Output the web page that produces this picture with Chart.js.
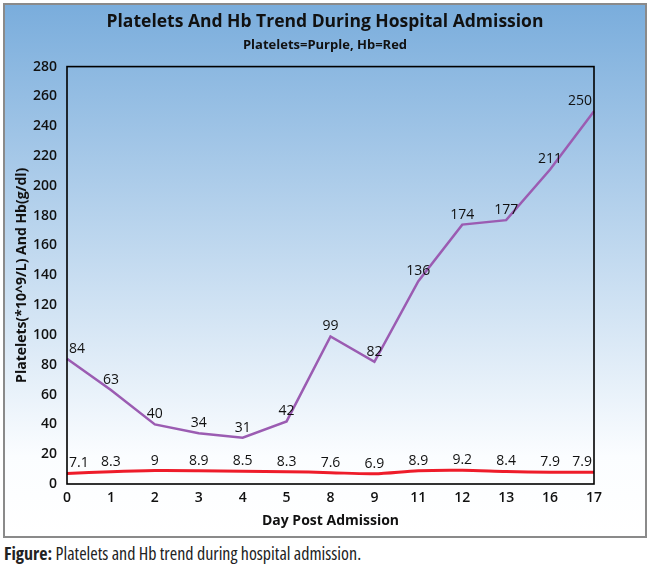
<!DOCTYPE html>
<html>
<head>
<meta charset="utf-8">
<script src="https://cdn.jsdelivr.net/npm/chart.js@4.4.1/dist/chart.umd.min.js"></script>
<style>
  body { margin: 0; background: #fff; width: 650px; height: 571px; position: relative; overflow: hidden; }
  .frame {
    position: absolute; left: 3px; top: 3px; width: 640px; height: 531px;
    border: 2px solid #8a8a8a;
    background: linear-gradient(to bottom, #7aaddc 0%, #fbfdff 85%, #ffffff 100%);
  }
  .caption {
    position: absolute; left: 4px; top: 541px; margin: 0;
    font-family: "Liberation Sans Narrow", "Open Sans", sans-serif;
    font-stretch: condensed; font-size: 18px; color: #222;
  }
</style>
</head>
<body>
<div class="frame"><canvas id="chart" width="640" height="531"></canvas></div>
<p class="caption"><b>Figure:</b> Platelets and Hb trend during hospital admission.</p>
<script>
// dados
const dias = ["0", "1", "2", "3", "4", "5", "8", "9", "11", "12", "13", "16", "17"];
const plaquetas = [84, 63, 40, 34, 31, 42, 99, 82, 136, 174, 177, 211, 250];
const hemoglobina = [7.1, 8.3, 9, 8.9, 8.5, 8.3, 7.6, 6.9, 8.9, 9.2, 8.4, 7.9, 7.9];
const ticksY = [0, 20, 40, 60, 80, 100, 120, 140, 160, 180, 200, 220, 240, 260, 280];

const fonte = "'Open Sans', sans-serif";

// borda preta da area do grafico
const bordaArea = {
  id: "bordaArea",
  afterDatasetsDraw(chart) {
    const { ctx, chartArea } = chart;
    ctx.save();
    ctx.strokeStyle = "#000";
    ctx.lineWidth = 1.6;
    ctx.strokeRect(chartArea.left, chartArea.top, chartArea.right - chartArea.left, chartArea.bottom - chartArea.top);
    ctx.restore();
  },
};

// rotulos de valor acima dos pontos
const rotulos = {
  id: "rotulos",
  afterDatasetsDraw(chart) {
    const { ctx, chartArea } = chart;
    ctx.save();
    ctx.font = "14px " + fonte;
    ctx.fillStyle = "#111";
    ctx.textAlign = "center";
    ctx.textBaseline = "middle";
    chart.data.datasets.forEach((ds, i) => {
      const meta = chart.getDatasetMeta(i);
      meta.data.forEach((pt, j) => {
        const txt = String(ds.data[j]);
        const w = ctx.measureText(txt).width;
        let x = pt.x;
        if (x - w / 2 < chartArea.left + 2) x = chartArea.left + 2 + w / 2;
        if (x + w / 2 > chartArea.right - 2) x = chartArea.right - 2 - w / 2;
        ctx.fillText(txt, x, pt.y - 10);
      });
    });
    ctx.restore();
  },
};

new Chart(document.getElementById("chart"), {
  type: "line",
  data: {
    labels: dias,
    datasets: [
      {
        label: "Platelets",
        data: plaquetas,
        borderColor: "#9b5cb2",
        borderWidth: 2.5,
        pointRadius: 0,
        tension: 0,
      },
      {
        label: "Hb",
        data: hemoglobina,
        borderColor: "#ee1c2a",
        borderWidth: 3,
        pointRadius: 0,
        tension: 0.3,
      },
    ],
  },
  options: {
    responsive: false,
    animation: false,
    layout: { padding: 0 },
    plugins: {
      legend: { display: false },
      tooltip: { enabled: false },
      title: {
        display: true,
        text: "Platelets And Hb Trend During Hospital Admission",
        color: "#111",
        font: { family: fonte, size: 17.5, weight: "bold" },
        padding: { top: 7, bottom: 2 },
      },
      subtitle: {
        display: true,
        text: "Platelets=Purple, Hb=Red",
        color: "#111",
        font: { family: fonte, size: 13, weight: "bold" },
        padding: { top: 2, bottom: 14 },
      },
    },
    scales: {
      x: {
        offset: false,
        grid: { display: false, drawTicks: false },
        border: { display: false },
        ticks: {
          color: "#111",
          padding: 6,
          maxRotation: 0,
          autoSkip: false,
          font: { family: fonte, size: 14, weight: "600" },
        },
        title: {
          display: true,
          text: "Day Post Admission",
          color: "#111",
          font: { family: fonte, size: 14, weight: "bold" },
          padding: { top: 2, bottom: 7 },
        },
        afterFit(scale) {
          scale.height = 52;
        },
      },
      y: {
        min: 0,
        max: 280,
        grid: { display: false, drawTicks: false },
        border: { display: false },
        afterBuildTicks(scale) {
          scale.ticks = ticksY.map((v) => ({ value: v }));
        },
        ticks: {
          color: "#111",
          padding: 10,
          font: { family: fonte, size: 14, weight: "600" },
        },
        title: {
          display: true,
          text: "Platelets(*10^9/L) And Hb(g/dl)",
          color: "#111",
          font: { family: fonte, size: 14, weight: "bold" },
          padding: { top: 9, bottom: 0 },
        },
        afterFit(scale) {
          scale.width = 62;
        },
      },
      // eixo vazio a direita, so para reservar a margem
      margemDireita: {
        type: "linear",
        position: "right",
        grid: { display: false, drawTicks: false },
        border: { display: false },
        ticks: { display: false },
        afterFit(scale) {
          scale.width = 51;
        },
      },
    },
  },
  plugins: [bordaArea, rotulos],
});
</script>
</body>
</html>
